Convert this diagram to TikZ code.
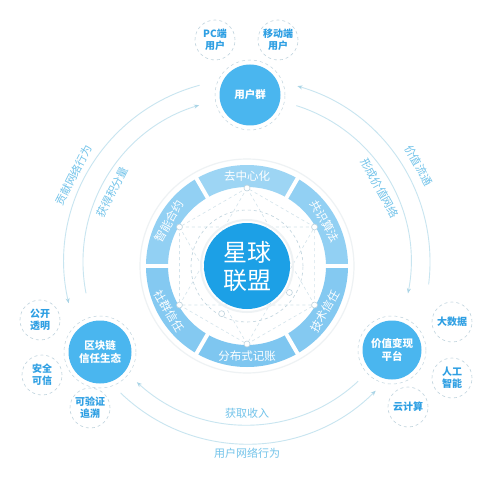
\documentclass[tikz,border=0pt]{standalone}
\usepackage{fontspec}
\setmainfont{Noto Sans CJK SC}
\usetikzlibrary{calc,arrows.meta}
\definecolor{mainblue}{HTML}{4AB6EF}
\definecolor{coreblue}{HTML}{1CA0E6}
\definecolor{segA}{HTML}{9DD5F4}
\definecolor{segB}{HTML}{92D0F3}
\definecolor{segC}{HTML}{84C9F1}
\definecolor{segD}{HTML}{7EC6F0}
\definecolor{sattext}{HTML}{2E9FE3}
\definecolor{dashc}{HTML}{BFD3DD}
\definecolor{arcc}{HTML}{C8E5F0}
\definecolor{arrowc}{HTML}{A9D4E6}
\definecolor{labelc}{HTML}{72C3EA}
\definecolor{decoc}{HTML}{D3E3EB}
\definecolor{glowc}{HTML}{EEF2F4}
\begin{document}
\begin{tikzpicture}[x=1pt,y=1pt,
  mainnode/.style={circle, fill=mainblue, text=white, font=\bfseries\fontsize{10.5}{13.5}\selectfont, align=center, minimum size=61, inner sep=0},
  halo/.style={draw=dashc, dashed, line width=0.5},
  satnode/.style={circle, draw=dashc, dashed, line width=0.6, fill=white, text=sattext, font=\bfseries\fontsize{10}{12}\selectfont, align=center, minimum size=40, inner sep=0},
  segtext/.style={text=white, font=\fontsize{11.5}{13}\selectfont, inner sep=0},
  arcline/.style={draw=arcc, line width=0.9},
  tip/.style={-{Stealth[length=5pt,width=4pt,color=arrowc]}},
  arclabel/.style={text=labelc, font=\fontsize{11}{13}\selectfont, inner sep=0},
  deco/.style={draw=decoc, dashed, line width=0.6}]
\useasboundingbox (0,0) rectangle (494,480);
\fill[white] (0,0) rectangle (494,480);

\coordinate (rc) at (247,214);
\coordinate (ac) at (247,218);

% outer arcs and labels
\draw[arcline, tip] ($(ac)+(105:183)$) arc[start angle=105, end angle=193, radius=183];
\draw[arcline, tip] ($(ac)+(191:164)$) arc[start angle=191, end angle=107, radius=164];
\draw[arcline, tip] ($(ac)+(-7:183)$) arc[start angle=-7, end angle=74, radius=183];
\draw[arcline, tip] ($(ac)+(72.5:164)$) arc[start angle=72.5, end angle=-11, radius=164];
\draw[arcline, tip] ($(ac)+(313:163)$) arc[start angle=313, end angle=227.5, radius=163];
\draw[arcline, tip] ($(ac)+(226:182)$) arc[start angle=226, end angle=315, radius=182];

\node[arclabel, rotate=63] (l1) at ($(ac)+(153.4:194)$) {贡献网络行为};
\node[arclabel, rotate=62.6] (l2) at ($(ac)+(152.6:152)$) {获得积分量};
\node[arclabel, rotate=-61] (l3) at ($(ac)+(29.3:197)$) {价值流通};
\node[arclabel, rotate=-61] (l4) at ($(ac)+(29.1:152)$) {形成价值网络};
\node[arclabel] (l5) at ($(ac)+(270:151)$) {获取收入};
\node[arclabel] (l6) at ($(ac)+(270:191)$) {用户网络行为};

% central ring
\draw[glowc, line width=1.2] (rc) circle (107);
\foreach \a/\c in {90/segA, 30/segB, 150/segB, -30/segC, -150/segC, -90/segD} {
  \fill[\c] ($(rc)+(\a-30:79)$) arc[start angle=\a-30, end angle=\a+30, radius=79]
     -- ($(rc)+(\a+30:101)$) arc[start angle=\a+30, end angle=\a-30, radius=101] -- cycle;
}
\foreach \g in {0,60,...,300} \draw[white, line width=4] ($(rc)+(\g:76)$) -- ($(rc)+(\g:104)$);

\node[segtext] (sa) at ($(rc)+(90:90)$) {去中心化};
\node[segtext, rotate=-60] (sb) at ($(rc)+(30:90)$) {共识算法};
\node[segtext, rotate=60] (sc) at ($(rc)+(-30:90)$) {技术信任};
\node[segtext] (sd) at ($(rc)+(-90:90)$) {分布式记账};
\node[segtext, rotate=-60] (se) at ($(rc)+(-150:90)$) {社群信任};
\node[segtext, rotate=60] (sf) at ($(rc)+(150:90)$) {智能合约};

% inner decoration
\foreach \k in {0,...,5} \coordinate (h\k) at ($(rc)+(90+60*\k:78)$);
\draw[deco] (h0)--(h1)--(h2)--(h3)--(h4)--(h5)--cycle;
\draw[deco] (h0)--(h2)--(h4)--cycle;
\draw[deco] (h1)--(h3)--(h5)--cycle;
\draw[deco, draw=dashc] (rc) circle (56);
\foreach \k in {0,...,5} \draw[draw=dashc, fill=white, line width=0.6] (h\k) circle (3);
\draw[draw=dashc, fill=white, line width=0.6] ($(rc)+(242:54)$) circle (3);
\draw[draw=dashc, fill=white, line width=0.6] ($(rc)+(-32:50)$) circle (3);
\draw[glowc, line width=2] (rc) circle (46);
\fill[coreblue] (rc) circle (43);
\node[text=white, font=\fontsize{24}{28}\selectfont, align=center, inner sep=0] (core) at (rc) {星球\\联盟};

% main nodes
\node[mainnode] (users) at (250,385) {用户群};
\draw[halo] (users) circle (35);
\node[mainnode, minimum size=63] (chain) at (100,128) {区块链\\信任生态};
\draw[halo] (chain) circle (36);
\node[mainnode, minimum size=59] (value) at (392,130) {价值变现\\平台};
\draw[halo] (value) circle (34);

% satellites
\node[satnode] (pc) at (215,440) {PC端\\用户};
\node[satnode] (mob) at (278,440) {移动端\\用户};
\node[satnode] (open) at (40,160) {公开\\透明};
\node[satnode] (safe) at (42,105) {安全\\可信};
\node[satnode] (trace) at (90,72) {可验证\\追溯};
\node[satnode] (big) at (452,158) {大数据};
\node[satnode] (ai) at (452,102) {人工\\智能};
\node[satnode] (cloud) at (408,73) {云计算};
\end{tikzpicture}
\end{document}
